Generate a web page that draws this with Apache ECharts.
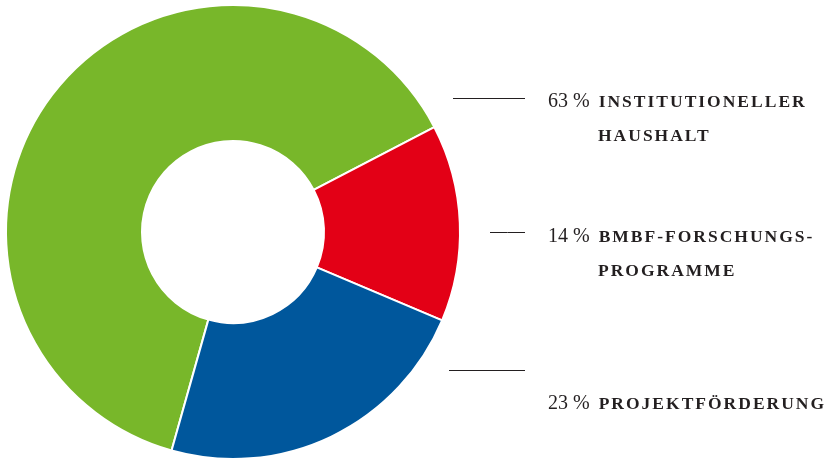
<!DOCTYPE html>
<html>
<head>
<meta charset="utf-8">
<script src="https://cdn.jsdelivr.net/npm/echarts@6/dist/echarts.min.js"></script>
<style>
  html, body { margin: 0; padding: 0; background: #ffffff; }
  #chart { width: 837px; height: 460px; }
</style>
</head>
<body>
<div id="chart"></div>
<script>
// Funding sources (share in percent)
const categories = ['INSTITUTIONELLER\nHAUSHALT', 'BMBF-FORSCHUNGS-\nPROGRAMME', 'PROJEKTFÖRDERUNG'];
const shares = [63, 14, 23];
const colors = ['#78b72a', '#e30016', '#00579c'];

// Label placement: text block top-left and the short rule beside it
const labelSpots = [
  { x: 548, y: 85, rule: [453, 525, 98.5] },
  { x: 548, y: 220, rule: [490, 525, 232.5] },
  { x: 548, y: 387, rule: [449, 525, 370.5] }
];

// Spaced small-caps look for the bold caption font (canvas letterSpacing)
(function () {
  const proto = CanvasRenderingContext2D.prototype;
  const fill = proto.fillText, measure = proto.measureText;
  function spacing(ctx) {
    ctx.letterSpacing = (/bold|700/.test(ctx.font) && /Liberation Serif/.test(ctx.font)) ? '2px' : '0px';
  }
  proto.fillText = function () { spacing(this); return fill.apply(this, arguments); };
  proto.measureText = function () { spacing(this); return measure.apply(this, arguments); };
})();

const chart = echarts.init(document.getElementById('chart'));

function labelText(name, value) {
  const rows = name.split('\n');
  let s = '{num|' + value + ' %}{gap|}{cap|' + rows[0] + '}';
  for (let i = 1; i < rows.length; i++) {
    s += '\n{indent|}{cap|' + rows[i] + '}';
  }
  return s;
}

chart.setOption({
  animation: false,
  color: colors,
  series: [{
    type: 'pie',
    center: [233, 232],
    radius: [91, 227],
    startAngle: 254.3,
    clockwise: true,
    avoidLabelOverlap: false,
    itemStyle: { borderColor: '#ffffff', borderWidth: 2 },
    data: categories.map((c, i) => ({ name: c, value: shares[i] })),
    label: {
      show: true,
      overflow: 'none',
      formatter: p => labelText(p.name, p.value),
      color: '#231f20',
      lineHeight: 34,
      rich: {
        num: { fontFamily: 'Liberation Serif', fontSize: 20, color: '#231f20', lineHeight: 34 },
        gap: { width: 9 },
        indent: { width: 50 },
        cap: { fontFamily: 'Liberation Serif', fontSize: 17.5, fontWeight: 'bold', color: '#231f20', lineHeight: 34 }
      }
    },
    labelLine: {
      show: true,
      lineStyle: { color: '#231f20', width: 1 }
    },
    labelLayout: function (params) {
      const s = labelSpots[params.dataIndex];
      const r = s.rule;
      return {
        x: s.x,
        y: s.y,
        align: 'left',
        verticalAlign: 'top',
        labelLinePoints: [[r[0], r[2]], [(r[0] + r[1]) / 2, r[2]], [r[1], r[2]]]
      };
    }
  }]
});
</script>
</body>
</html>
